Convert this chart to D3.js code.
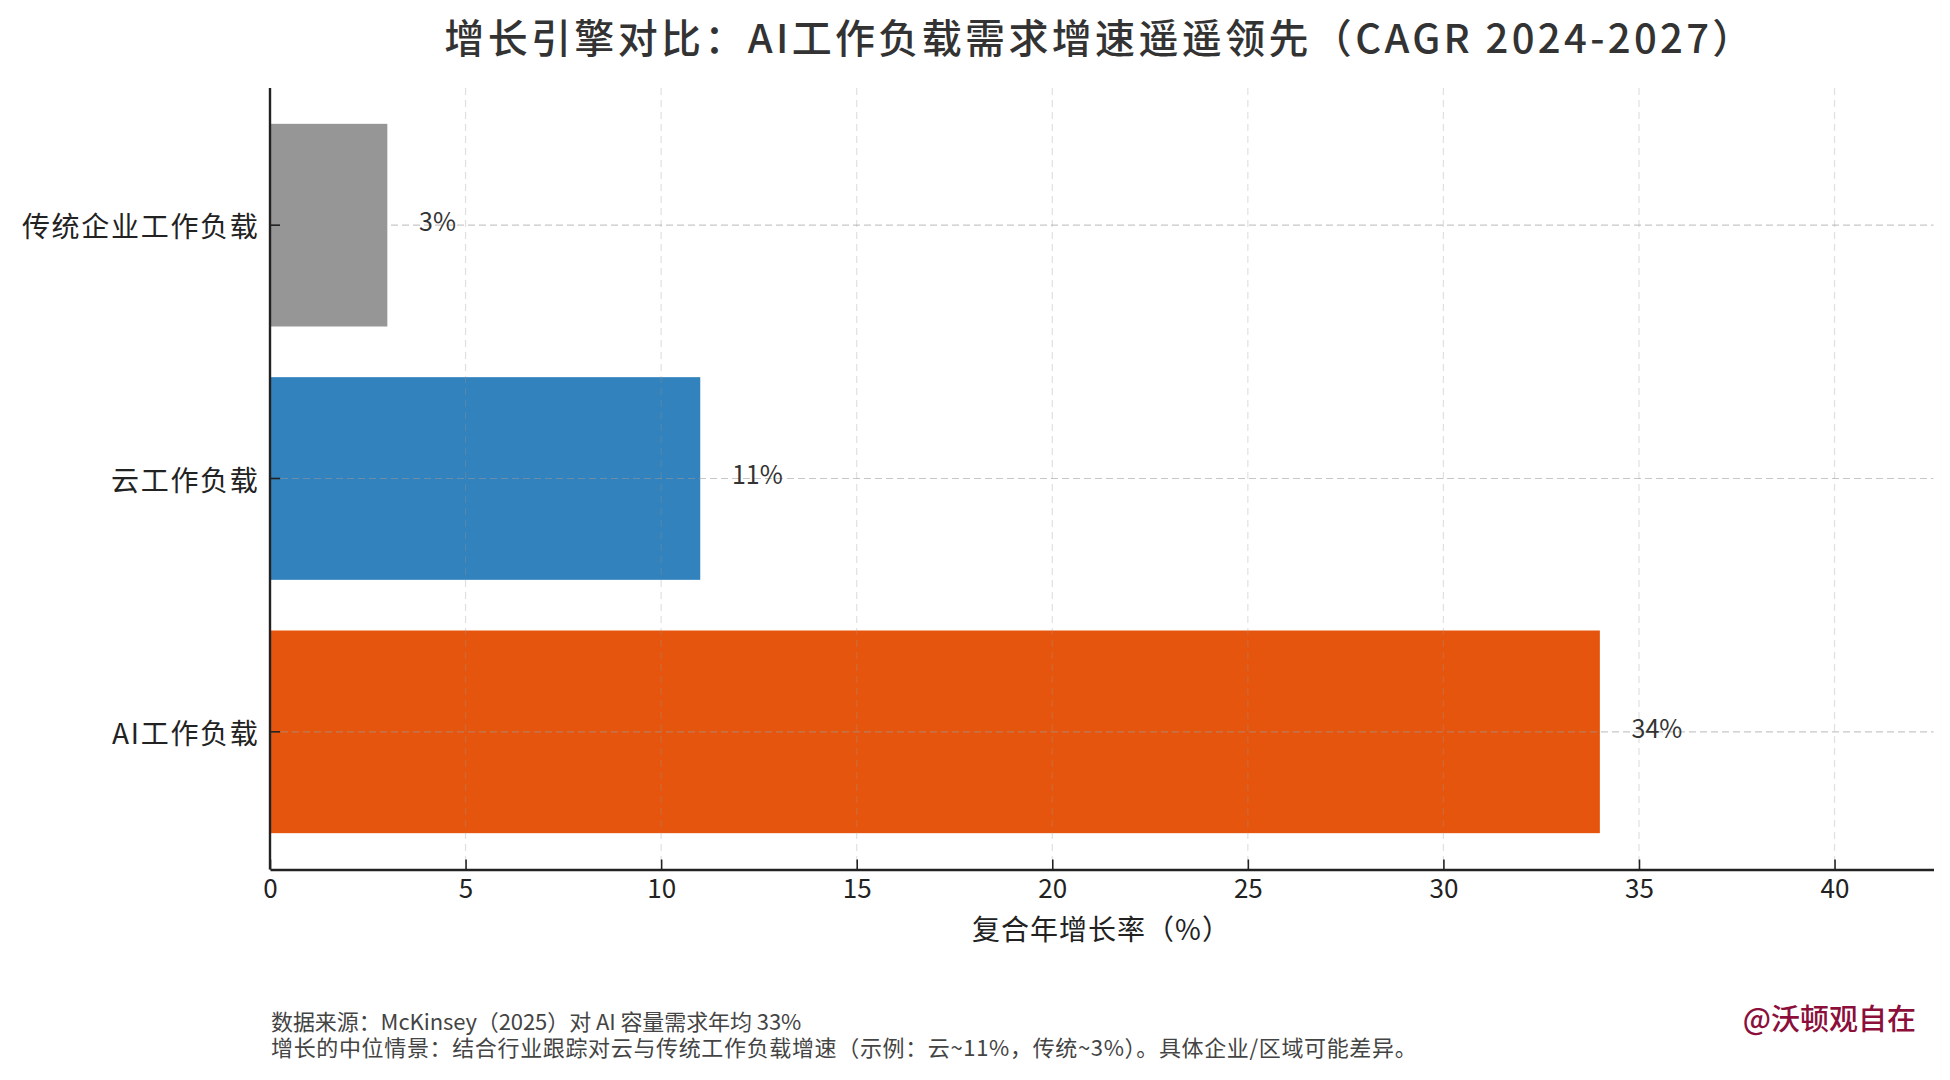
<!DOCTYPE html>
<html lang="zh-CN">
<head>
<meta charset="utf-8">
<script src="https://cdn.jsdelivr.net/npm/d3@7/dist/d3.min.js"></script>
<style>
html,body{margin:0;padding:0;background:#fff;}
svg{display:block;}
text{font-family:"Noto Sans CJK SC","Noto Sans",sans-serif;}
</style>
</head>
<body>
<svg id="chart" width="1950" height="1080"></svg>
<script>
const categories = ["传统企业工作负载", "云工作负载", "AI工作负载"];
const values = [3, 11, 34];
const barColors = ["#969696", "#3182bd", "#e6550d"];
const xTicks = [0, 5, 10, 15, 20, 25, 30, 35, 40];
const titleText = "增长引擎对比：AI工作负载需求增速遥遥领先（CAGR 2024-2027）";
const xLabel = "复合年增长率（%）";
const footnotes = [
  "数据来源：McKinsey（2025）对 AI 容量需求年均 33%",
  "增长的中位情景：结合行业跟踪对云与传统工作负载增速（示例：云~11%，传统~3%）。具体企业/区域可能差异。"
];
const watermark = "@沃顿观自在";

const svg = d3.select("#chart");
const plot = {left: 270, right: 1933.5, top: 88, bottom: 869.5};
const x = d3.scaleLinear().domain([0, 42.53]).range([plot.left, plot.right]);
const y = d3.scaleBand().domain(categories)
  .range([98.5, 858.5]).paddingInner(0.2).paddingOuter(0.1);
const inkDark = "#222";

svg.append("g").selectAll("rect").data(categories).join("rect")
  .attr("x", x(0))
  .attr("y", d => y(d))
  .attr("width", (d, i) => x(values[i]) - x(0))
  .attr("height", y.bandwidth())
  .attr("fill", (d, i) => barColors[i]);

const grid = svg.append("g");
grid.selectAll("line.v").data(xTicks.slice(1)).join("line").attr("class", "v")
  .attr("x1", d => x(d)).attr("x2", d => x(d))
  .attr("y1", plot.top).attr("y2", plot.bottom)
  .attr("stroke", "#999").attr("stroke-opacity", 0.3)
  .attr("stroke-width", 1.2).attr("stroke-dasharray", "7 5");
grid.selectAll("line.h").data(categories).join("line").attr("class", "h")
  .attr("x1", plot.left).attr("x2", plot.right)
  .attr("y1", d => y(d) + y.bandwidth() / 2).attr("y2", d => y(d) + y.bandwidth() / 2)
  .attr("stroke", "#999").attr("stroke-opacity", 0.55)
  .attr("stroke-width", 1.2).attr("stroke-dasharray", "7 4");

const gx = svg.append("g").attr("transform", `translate(0,${plot.bottom})`)
  .call(d3.axisBottom(x).tickValues(xTicks).tickFormat(d3.format("d"))
    .tickSize(-10).tickSizeOuter(0).tickPadding(10));
gx.select(".domain").attr("stroke", inkDark).attr("stroke-width", 2.4);
gx.selectAll(".tick line").attr("stroke", inkDark).attr("stroke-width", 1.6);
gx.selectAll(".tick text").attr("fill", inkDark).attr("font-size", 26)
  .style("font-family", '"Noto Sans CJK SC",sans-serif').style("font-weight", 400);

const gy = svg.append("g").attr("transform", `translate(${plot.left},0)`)
  .call(d3.axisLeft(y).tickSize(-10).tickSizeOuter(0).tickPadding(10.5));
gy.select(".domain").attr("stroke", inkDark).attr("stroke-width", 2.4)
  .attr("d", `M0,${plot.top}V${plot.bottom}`);
gy.selectAll(".tick line").attr("stroke", inkDark).attr("stroke-width", 1.6);
gy.selectAll(".tick text").attr("fill", inkDark).attr("font-size", 28)
  .attr("dy", "0.44em").style("letter-spacing", "1.7px")
  .style("font-family", '"Noto Sans CJK SC",sans-serif').style("font-weight", 400);

svg.append("g").selectAll("text").data(values).join("text")
  .attr("x", d => x(d + 0.9) - 3.5)
  .attr("y", (d, i) => y(categories[i]) + y.bandwidth() / 2 - 1)
  .attr("dominant-baseline", "middle")
  .attr("fill", "#333").attr("font-size", 25).attr("font-weight", 400)
  .text(d => d + "%");

svg.append("text").attr("x", 1100).attr("y", 42)
  .attr("text-anchor", "middle").attr("dominant-baseline", "middle")
  .attr("fill", "#333").attr("font-size", 40).attr("font-weight", 500)
  .style("letter-spacing", "3.35px")
  .text(titleText);

svg.append("text").attr("x", 1101.5).attr("y", 932)
  .attr("text-anchor", "middle").attr("dominant-baseline", "middle")
  .attr("fill", inkDark).attr("font-size", 28).attr("font-weight", 400)
  .style("letter-spacing", "1px")
  .text(xLabel);

svg.append("g").selectAll("text").data(footnotes).join("text")
  .attr("x", 271).attr("y", (d, i) => 1024.5 + i * 26)
  .attr("dominant-baseline", "middle")
  .attr("fill", "#444").attr("font-size", 22).attr("font-weight", 400)
  .style("letter-spacing", (d, i) => (i === 0 ? -0.08 : 0.65) + "px")
  .text(d => d);

svg.append("text").attr("x", 1916).attr("y", 1022.5)
  .attr("text-anchor", "end").attr("dominant-baseline", "middle")
  .attr("fill", "#8b0f3a").attr("font-size", 29).attr("font-weight", 500)
  .text(watermark);
</script>
</body>
</html>
